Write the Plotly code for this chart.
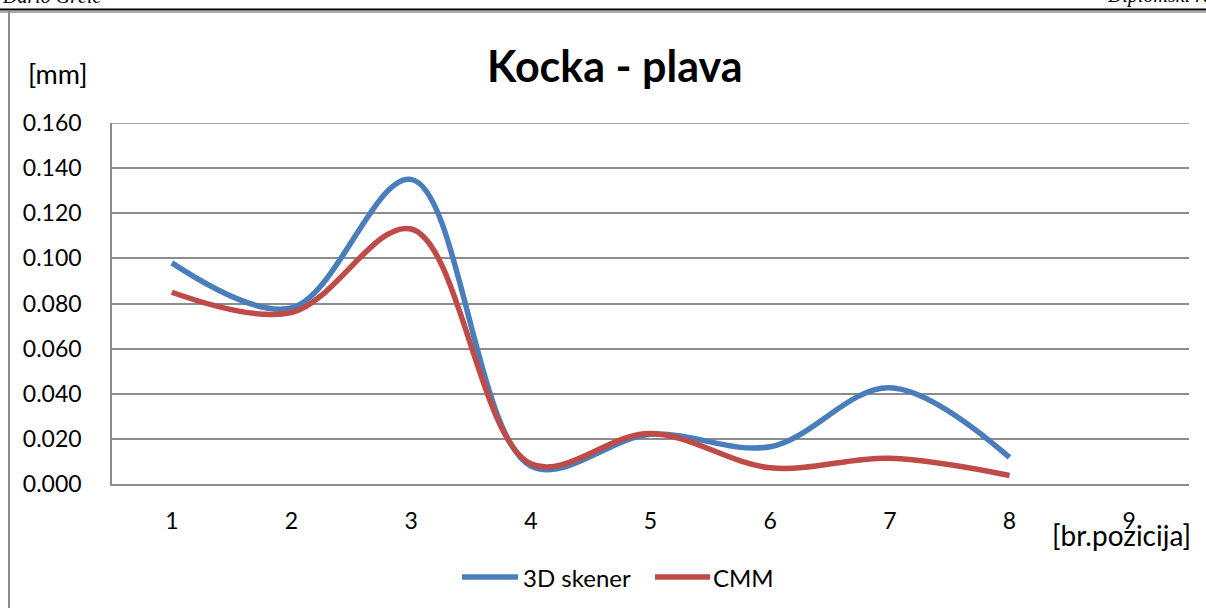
import plotly.graph_objects as go

# Measurement positions and deviations [mm]
positions = [1, 2, 3, 4, 5, 6, 7, 8]
skener_3d = [0.098, 0.078, 0.135, 0.008, 0.022, 0.0165, 0.0427, 0.0118]
cmm = [0.085, 0.076, 0.113, 0.009, 0.0224, 0.0072, 0.0114, 0.0038]

x_ticks = [1, 2, 3, 4, 5, 6, 7, 8, 9]
y_ticks = [0.0, 0.02, 0.04, 0.06, 0.08, 0.10, 0.12, 0.14, 0.16]
y_tick_text = [f"{v:.3f}" for v in y_ticks]

series_names = ["3D skener", "CMM"]
series_colors = ["#4A7EBB", "#BE4B48"]

W, H = 1206, 608
L, R, T, B = 112, 17, 123, 124
PW, PH = W - L - R, H - T - B


def px(xp):
    return (xp - L) / PW


def py(yp):
    return (H - B - yp) / PH


FONT = "Lato"
fig = go.Figure()

for name, vals, col in zip(series_names, [skener_3d, cmm], series_colors):
    fig.add_trace(go.Scatter(
        x=positions, y=vals, name=name, mode="lines",
        line=dict(color=col, width=5.5, shape="spline", smoothing=1.0),
        showlegend=False,
    ))

shapes = [
    # page header rule and chart frame
    dict(type="line", xref="paper", yref="paper", x0=px(0), x1=px(W), y0=py(9.5), y1=py(9.5),
         line=dict(color="#000000", width=2)),
    dict(type="line", xref="paper", yref="paper", x0=px(0), x1=px(W), y0=py(12), y1=py(12),
         line=dict(color="#8c8c8c", width=1.5)),
    dict(type="line", xref="paper", yref="paper", x0=px(9), x1=px(9), y0=py(11), y1=py(H),
         line=dict(color="#8c8c8c", width=2)),
    # top gridline at the upper end of the value axis
    dict(type="line", xref="paper", yref="y", x0=0, x1=1, y0=y_ticks[-1], y1=y_ticks[-1],
         line=dict(color="#8c8c8c", width=1.5), layer="below"),
]

annotations = [
    dict(text="Kocka - plava", xref="paper", yref="paper", x=px(614), y=py(65),
         xanchor="center", yanchor="middle", showarrow=False,
         font=dict(family=FONT, size=43, color="#000000", weight="bold")),
    dict(text="[mm]", xref="paper", yref="paper", x=px(26), y=py(74),
         xanchor="left", yanchor="middle", showarrow=False,
         font=dict(family=FONT, size=27, color="#000000")),
    dict(text="[br.pozicija]", xref="paper", yref="paper", x=px(1193), y=py(535),
         xanchor="right", yanchor="middle", showarrow=False,
         font=dict(family=FONT, size=28, color="#000000")),
    dict(text="<i>Dario Grčić</i>", xref="paper", yref="paper", x=px(0), y=py(9),
         xanchor="left", yanchor="bottom", showarrow=False,
         font=dict(family="Liberation Serif", size=20, color="#000000")),
    dict(text="<i>Diplomski rad</i>", xref="paper", yref="paper", x=px(1226), y=py(9),
         xanchor="right", yanchor="bottom", showarrow=False,
         font=dict(family="Liberation Serif", size=20, color="#000000")),
]

# legend keys
legend_items = [(462, 518, 521), (655, 710, 711)]
for (x0, x1, xt), name, col in zip(legend_items, series_names, series_colors):
    shapes.append(dict(type="line", xref="paper", yref="paper", x0=px(x0), x1=px(x1),
                       y0=py(577), y1=py(577), line=dict(color=col, width=5.5)))
    annotations.append(dict(text=name, xref="paper", yref="paper", x=px(xt), y=py(577),
                            xanchor="left", yanchor="middle", showarrow=False,
                            font=dict(family=FONT, size=24, color="#000000")))

fig.update_layout(
    width=W, height=H,
    margin=dict(l=L, r=R, t=T, b=B, pad=0),
    paper_bgcolor="white", plot_bgcolor="white",
    font=dict(family=FONT, size=23, color="#000000"),
    shapes=shapes, annotations=annotations,
    showlegend=False,
)
fig.update_xaxes(
    range=[0.5, 9.5], tickvals=x_ticks, ticktext=[str(v) for v in x_ticks],
    showgrid=False, zeroline=False, showline=True, linecolor="#8c8c8c", linewidth=1.5,
    ticks="", ticklabelstandoff=16, tickfont=dict(family=FONT, size=23),
)
fig.update_yaxes(
    range=[0, 0.16], tickvals=y_ticks, ticktext=y_tick_text,
    showgrid=True, gridcolor="#8c8c8c", gridwidth=1.5, zeroline=False,
    showline=True, linecolor="#8c8c8c", linewidth=1.5,
    ticks="", ticklabelstandoff=24, tickfont=dict(family=FONT, size=23),
)

fig.write_html("out.html")
